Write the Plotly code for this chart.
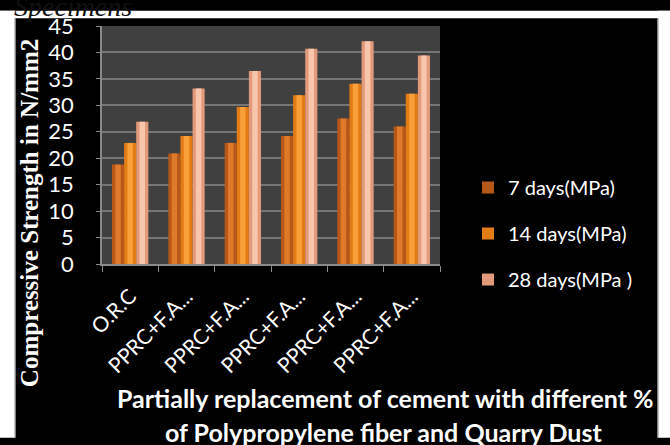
import plotly.graph_objects as go

# Compressive strength of concrete mixes (N/mm2) at three curing ages
categories = ["O.R.C", "PPRC+F.A...", "PPRC+F.A... ", "PPRC+F.A...  ",
              "PPRC+F.A...   ", "PPRC+F.A...    "]
tick_labels = ["O.R.C", "PPRC+F.A...", "PPRC+F.A...", "PPRC+F.A...",
               "PPRC+F.A...", "PPRC+F.A..."]
days_7 = [18.8, 20.9, 22.9, 24.2, 27.5, 26.0]
days_14 = [22.9, 24.2, 29.7, 31.9, 34.1, 32.2]
days_28 = [26.9, 33.2, 36.5, 40.7, 42.1, 39.4]
series_names = ["7 days(MPa)", "14 days(MPa)", "28 days(MPa )"]

# plot area in pixels
W, H = 670, 445
L, R, T, B = 102, 230, 16, 181
PW, PH = W - L - R, H - T - B


def px_x(x):
    return (x - L) / PW


def px_y(y):
    return (H - B - y) / PH


series = [
    (days_7, series_names[0], "#b85818", "#de7a2a"),
    (days_14, series_names[1], "#e47c16", "#f9a03a"),
    (days_28, series_names[2], "#e39a7a", "#f8c6ac"),
]
bar_w = 0.215
offsets = [-1.5 * bar_w, -0.5 * bar_w, 0.5 * bar_w]

fig = go.Figure()
for (vals, name, base_col, light_col), off in zip(series, offsets):
    fig.add_trace(go.Bar(
        x=categories, y=vals, name=name, width=bar_w, offset=off,
        marker=dict(color=base_col, line=dict(width=0)),
        legendgroup=name, showlegend=True,
    ))
    # lighter centre band for a rounded look
    fig.add_trace(go.Bar(
        x=categories, y=vals, width=bar_w * 0.45,
        offset=off + bar_w * 0.275,
        marker=dict(color=light_col, line=dict(width=0)),
        legendgroup=name, showlegend=False, hoverinfo="skip",
    ))

font_main = "Lato"

fig.update_layout(
    width=W, height=H,
    margin=dict(l=L, r=R, t=T, b=B, pad=0),
    paper_bgcolor="#000000",
    plot_bgcolor="#404040",
    barmode="overlay",
    showlegend=True,
    legend=dict(
        x=px_x(468), y=px_y(164), xanchor="left", yanchor="top",
        font=dict(family=font_main, size=20, color="#ffffff"),
        bgcolor="rgba(0,0,0,0)", tracegroupgap=17,
        traceorder="grouped", itemwidth=30,
    ),
    xaxis=dict(
        type="category", tickmode="array", tickvals=categories,
        ticktext=tick_labels, tickangle=-45, tickson="boundaries",
        ticks="outside", ticklen=6, tickcolor="#8a8a8a",
        ticklabelstandoff=10,
        showgrid=False, showline=True, linecolor="#8a8a8a", linewidth=1.5,
        tickfont=dict(family=font_main, size=21, color="#ffffff"),
        range=[-0.5, 5.5],
    ),
    yaxis=dict(
        range=[0, 45], dtick=5, tick0=0,
        showgrid=True, gridcolor="#767676", gridwidth=1.5,
        showline=True, linecolor="#8a8a8a", linewidth=1.5,
        ticks="outside", ticklen=4, tickcolor="#8a8a8a",
        ticklabelstandoff=18, zeroline=False,
        tickfont=dict(family=font_main, size=22, color="#ffffff"),
    ),
)

# white page edges around the black chart panel
fig.add_shape(type="rect", xref="paper", yref="paper",
              x0=px_x(0), x1=px_x(15), y0=px_y(H), y1=px_y(0),
              fillcolor="#ffffff", line=dict(width=0), layer="above")
fig.add_shape(type="rect", xref="paper", yref="paper",
              x0=px_x(658), x1=px_x(W), y0=px_y(H), y1=px_y(0),
              fillcolor="#ffffff", line=dict(width=0), layer="above")
fig.add_shape(type="rect", xref="paper", yref="paper",
              x0=px_x(0), x1=px_x(W), y0=px_y(8), y1=px_y(0),
              fillcolor="#ffffff", line=dict(width=0), layer="above")
for xp in (15, 658):
    fig.add_shape(type="line", xref="paper", yref="paper",
                  x0=px_x(xp), x1=px_x(xp), y0=px_y(H), y1=px_y(8),
                  line=dict(color="#b0b0b0", width=1.5), layer="above")

# caption text running off the top of the page
fig.add_annotation(
    text="Specimens", xref="paper", yref="paper",
    x=px_x(12), y=px_y(14), xanchor="left", yanchor="bottom",
    showarrow=False,
    font=dict(family="Liberation Serif", size=28, color="#111111",
              style="italic"),
)

# axis titles
fig.add_annotation(
    text="<b>Compressive Strength in N/mm2</b>", xref="paper", yref="paper",
    x=px_x(29), y=px_y(211), textangle=-90, showarrow=False,
    xanchor="center", yanchor="middle",
    font=dict(family="Liberation Serif", size=25, color="#ffffff"),
)
fig.add_annotation(
    text="<b>Partially replacement of cement with different %</b>",
    xref="paper", yref="paper", x=px_x(385), y=px_y(404),
    xanchor="center", yanchor="middle", showarrow=False,
    font=dict(family=font_main, size=25, color="#ffffff"),
)
fig.add_annotation(
    text="<b>of Polypropylene fiber and Quarry Dust</b>",
    xref="paper", yref="paper", x=px_x(383), y=px_y(439),
    xanchor="center", yanchor="middle", showarrow=False,
    font=dict(family=font_main, size=25, color="#ffffff"),
)

fig.write_html("out.html")
